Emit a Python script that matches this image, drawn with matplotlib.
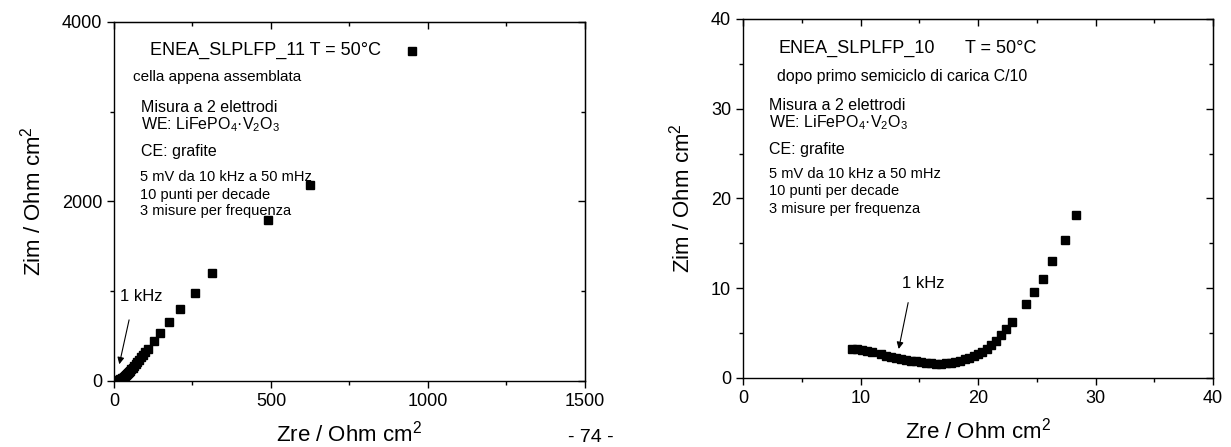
import matplotlib
matplotlib.use("Agg")
import matplotlib.pyplot as plt
from matplotlib.ticker import MultipleLocator

plt.rcParams["font.family"] = ["Liberation Sans", "DejaVu Sans"]
plt.rcParams["mathtext.default"] = "regular"

# left panel: cell just assembled (Zre, Zim in Ohm cm2)
zre_11 = [5, 12, 18, 24, 28, 31, 35, 37, 41, 44, 48, 51, 55, 59, 64, 69, 74, 80, 86,
          92, 100, 107, 126, 147, 174, 210, 257, 313, 489, 624, 950]
zim_11 = [4, 11, 19, 30, 38, 45, 55, 63, 74, 85, 100, 115, 132, 149, 168, 189, 212, 238, 265,
          293, 325, 358, 440, 537, 660, 805, 985, 1207, 1793, 2181, 3678]

# right panel: after first C/10 charge half-cycle
zre_10 = [9.3, 9.73, 10.16, 10.58, 10.95, 11.72, 12.14, 12.57, 13.0, 13.42, 13.85, 14.27,
          14.7, 15.12, 15.55, 15.97, 16.4, 16.82, 17.25, 17.67, 18.07, 18.47, 18.87, 19.26,
          19.63, 20.0, 20.37, 20.74, 21.14, 21.54, 21.93, 22.36, 22.9, 24.06, 24.74, 25.53,
          26.27, 27.4, 28.34]
zim_10 = [3.23, 3.19, 3.12, 3.0, 2.9, 2.64, 2.49, 2.34, 2.23, 2.12, 2.0, 1.93,
          1.86, 1.75, 1.67, 1.63, 1.6, 1.6, 1.63, 1.71, 1.82, 1.93, 2.08, 2.27,
          2.45, 2.67, 2.93, 3.23, 3.64, 4.12, 4.75, 5.42, 6.2, 8.21, 9.55, 11.03,
          13.0, 15.38, 18.12]

info_lines = ["5 mV da 10 kHz a 50 mHz", "10 punti per decade", "3 misure per frequenza"]


def style_axes(ax, xmax, ymax, xmaj, xmin, ymaj, ymin):
    ax.set_xlim(0, xmax)
    ax.set_ylim(0, ymax)
    ax.xaxis.set_major_locator(MultipleLocator(xmaj))
    ax.xaxis.set_minor_locator(MultipleLocator(xmin))
    ax.yaxis.set_major_locator(MultipleLocator(ymaj))
    ax.yaxis.set_minor_locator(MultipleLocator(ymin))
    ax.tick_params(which="both", direction="out", top=False, right=False, labelsize=13, width=1)
    ax.tick_params(which="major", length=5)
    ax.tick_params(which="minor", length=3)
    sec_x = ax.secondary_xaxis("top")
    sec_y = ax.secondary_yaxis("right")
    for sec in (sec_x, sec_y):
        sec.tick_params(which="both", direction="in", width=1)
        sec.tick_params(which="major", length=5)
        sec.tick_params(which="minor", length=3)
    sec_x.xaxis.set_major_locator(MultipleLocator(xmaj))
    sec_x.xaxis.set_minor_locator(MultipleLocator(xmin))
    sec_y.yaxis.set_major_locator(MultipleLocator(ymaj))
    sec_y.yaxis.set_minor_locator(MultipleLocator(ymin))
    sec_x.set_xticklabels([])
    sec_y.set_yticklabels([])
    for sp in ax.spines.values():
        sp.set_linewidth(1)
    ax.set_xlabel("Zre / Ohm cm$^2$", fontsize=16, labelpad=8)
    ax.set_ylabel("Zim / Ohm cm$^2$", fontsize=16, labelpad=12)


fig = plt.figure(figsize=(12.31, 4.47), dpi=100)
ax1 = fig.add_axes([0.0926, 0.1477, 0.3826, 0.8031])
ax2 = fig.add_axes([0.6036, 0.1544, 0.3818, 0.8031])

# left panel
ax1.plot(zre_11, zim_11, "s", color="black", markersize=5.5, linestyle="none")
style_axes(ax1, 1500, 4000, 500, 250, 2000, 1000)
ax1.text(116, 3685, "ENEA_SLPLFP_11 T = 50°C", fontsize=13, va="center")
ax1.text(59, 3389, "cella appena assemblata", fontsize=11, va="center")
ax1.text(87, 3044, "Misura a 2 elettrodi", fontsize=11.5, va="center")
ax1.text(87, 2852, "WE: LiFePO$_4$·V$_2$O$_3$", fontsize=11.5, va="center")
ax1.text(87, 2556, "CE: grafite", fontsize=11.5, va="center")
for y, line in zip([2278, 2074, 1889], info_lines):
    ax1.text(84, y, line, fontsize=10.5, va="center")
ax1.annotate("", xy=(15, 156), xytext=(50, 711),
             arrowprops=dict(arrowstyle="-|>", color="black", lw=0.8, mutation_scale=10))
ax1.text(18, 944, "1 kHz", fontsize=12, va="center")

# right panel
ax2.plot(zre_10, zim_10, "s", color="black", markersize=5.5, linestyle="none")
style_axes(ax2, 40, 40, 10, 5, 10, 5)
ax2.text(2.98, 36.7, "ENEA_SLPLFP_10", fontsize=13, va="center")
ax2.text(18.9, 36.7, "T = 50°C", fontsize=13, va="center")
ax2.text(2.92, 33.6, "dopo primo semiciclo di carica C/10", fontsize=11.4, va="center")
ax2.text(2.25, 30.4, "Misura a 2 elettrodi", fontsize=11.5, va="center")
ax2.text(2.25, 28.4, "WE: LiFePO$_4$·V$_2$O$_3$", fontsize=11.5, va="center")
ax2.text(2.25, 25.5, "CE: grafite", fontsize=11.5, va="center")
for y, line in zip([22.7, 20.8, 18.8], info_lines):
    ax2.text(2.25, y, line, fontsize=10.5, va="center")
ax2.annotate("", xy=(13.2, 2.93), xytext=(14.1, 8.7),
             arrowprops=dict(arrowstyle="-|>", color="black", lw=0.8, mutation_scale=10))
ax2.text(13.5, 10.5, "1 kHz", fontsize=12, va="center")

fig.text(591 / 1231, 0.003, "- 74 -", fontsize=14, ha="center", va="bottom")

fig.savefig("out.png", dpi=100)
